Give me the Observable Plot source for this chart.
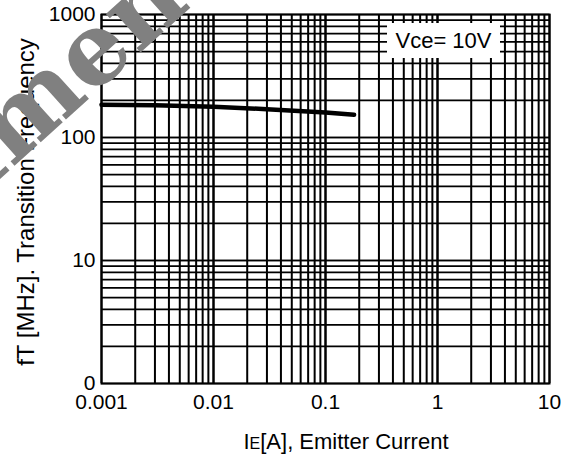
<!DOCTYPE html>
<html><head><meta charset="utf-8">
<script src="https://cdn.jsdelivr.net/npm/d3@7"></script>
<script src="https://cdn.jsdelivr.net/npm/@observablehq/plot@0.6"></script>
<style>
body{margin:0;background:#fff;font-family:"Liberation Sans",Arial,sans-serif;}
#wrap{position:relative;width:567px;height:459px;overflow:hidden;}
#legend{position:absolute;left:387px;top:23px;width:113px;height:35px;background:#fff;font-size:22px;line-height:35px;text-align:center;color:#000;font-family:"Liberation Sans",Arial,sans-serif;}
</style></head>
<body><div id="wrap"></div>
<script>
const current = [0.001, 0.003, 0.01, 0.03, 0.1, 0.18];
const fT = [185, 183, 178, 170, 160, 153];
const xTicks = [0.001, 0.01, 0.1, 1, 10];
const xTickLabels = ["0.001", "0.01", "0.1", "1", "10"];
const yTicks = [1, 10, 100, 1000];
const yTickLabels = ["0", "10", "100", "1000"];
const legendText = "Vce= 10V";
const watermarkHead = "Docu";
const watermarkTail = "ment";

const xGrid = [];
for (let d = -3; d < 1; d++) for (let m = 1; m <= 10; m++) xGrid.push(m * Math.pow(10, d));
const yGrid = [];
for (let d = 0; d < 3; d++) for (let m = 1; m <= 10; m++) yGrid.push(m * Math.pow(10, d));
const curve = current.map((c, i) => ({x: c, y: fT[i]}));
const fmtX = (d) => xTickLabels[xTicks.indexOf(d)];
const fmtY = (d) => yTickLabels[yTicks.indexOf(d)];

const chart = Plot.plot({
  width: 567, height: 459,
  marginLeft: 101, marginRight: 18, marginTop: 14, marginBottom: 76,
  style: {fontFamily: '"Liberation Sans", Arial, sans-serif', background: "#fff"},
  x: {type: "log", domain: [0.001, 10], label: null},
  y: {type: "log", domain: [1, 1000], label: null},
  marks: [
    Plot.ruleX(xGrid, {x: d => d, stroke: "#000", strokeWidth: 2}),
    Plot.ruleY(yGrid, {y: d => d, stroke: "#000", strokeWidth: 1.7}),
    Plot.frame({stroke: "#000", strokeWidth: 2}),
    Plot.line(curve, {x: "x", y: "y", stroke: "#000", strokeWidth: 4.5}),
    Plot.axisX({ticks: xTicks, tickFormat: fmtX, tickSize: 0, tickPadding: 11, fontSize: 21, label: null}),
    Plot.axisY({ticks: yTicks, tickFormat: fmtY, tickSize: 0, tickPadding: 6, fontSize: 21, label: null})
  ]
});
chart.style.position = "absolute";
chart.style.left = "0"; chart.style.top = "0";
const wrap = document.getElementById("wrap");
wrap.appendChild(chart);

const svg = d3.select(chart);
svg.append("text").attr("x", 346).attr("y", 449).attr("text-anchor", "middle")
  .attr("font-size", 22).attr("fill", "#000")
  .call(t => { t.append("tspan").text("I"); t.append("tspan").attr("font-size", 16).text("E"); t.append("tspan").text("[A], Emitter Current"); });
svg.append("text").attr("transform", "translate(34,202) rotate(-90)").attr("text-anchor", "middle")
  .attr("font-size", 24).attr("fill", "#000").text("fT [MHz]. Transition Frequency");

const lg = document.createElement("div"); lg.id = "legend"; lg.textContent = legendText; wrap.appendChild(lg);

const wm = svg.append("g").attr("transform", "translate(12,168) rotate(-42)")
  .attr("font-family", '"DejaVu Serif",serif').attr("font-weight", "bold")
  .attr("font-size", 100).attr("fill", "#808080");
wm.append("text").attr("text-anchor", "end").text(watermarkHead);
wm.append("text").attr("text-anchor", "start").text(watermarkTail);
</script></body></html>
